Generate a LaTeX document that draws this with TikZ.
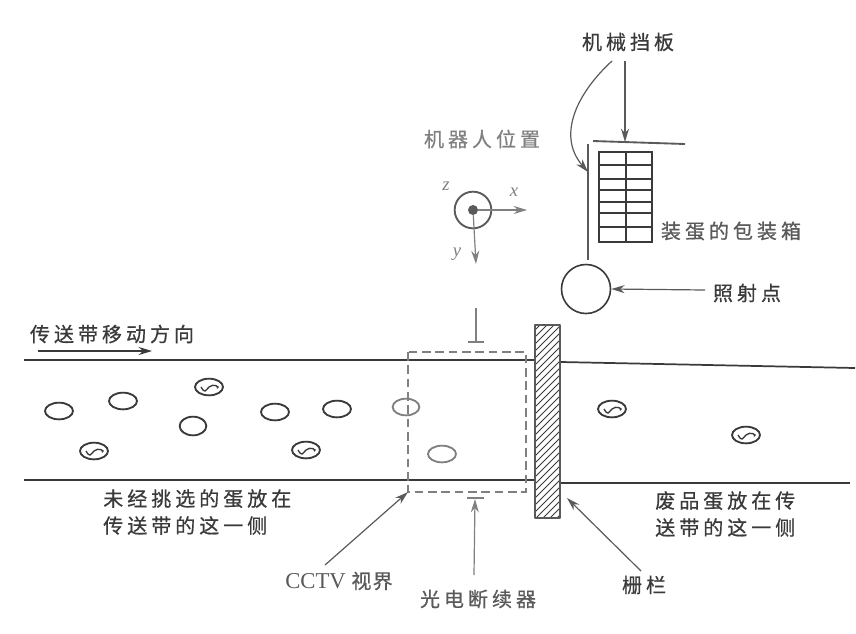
\documentclass[tikz,border=0pt]{standalone}
\usepackage{fontspec}
\usetikzlibrary{shapes.geometric,arrows.meta}
\newfontfamily\cjkf[LetterSpace=20,FakeBold=0.6]{Noto Sans CJK SC}
\newfontfamily\cjkg[LetterSpace=6,FakeBold=0.6]{Noto Sans CJK SC}
\setmainfont{Liberation Serif}
\definecolor{inkd}{HTML}{3A3A3A}
\definecolor{inkm}{HTML}{5A5A5A}
\definecolor{inkl}{HTML}{808080}
\tikzset{
  x=0.75pt,y=-0.75pt,
  lab/.style={font=\fontsize{15pt}{20.25pt}\selectfont\cjkf,text=inkd,inner sep=0pt,align=left},
  labg/.style={lab,text=inkm},
  egg/.style={ellipse,draw=inkd,line width=1.4pt,minimum width=21pt,minimum height=12.5pt,inner sep=0pt},
  eggg/.style={egg,draw=inkl},
  squig/.style={draw=inkd,line width=1pt},
  belt/.style={draw=inkd,line width=1.3pt},
  thin arrow/.style={draw=inkm,line width=.9pt,-{Stealth[length=10pt,width=6pt]}},
  hatchline/.style={draw=inkd,line width=.6pt},
  frame/.style={draw=inkd,line width=1.5pt},
  fview/.style={draw=inkl,line width=.9pt,dash pattern=on 6.5pt off 3.5pt},
  axisl/.style={font=\itshape\fontsize{14pt}{14pt}\selectfont,text=inkl,inner sep=0pt},
}
\newcommand{\sq}[1]{\draw[squig] ([xshift=-6pt]#1.center) .. controls +(3pt,-5pt) and +(-3pt,-3pt) .. (#1.center) .. controls +(3pt,3pt) and +(3pt,1pt) .. ([xshift=6pt,yshift=-1pt]#1.center);}
\begin{document}
\begin{tikzpicture}
\useasboundingbox[fill=white] (0,0) rectangle (856,633);
% belts
\coordinate (tl) at (24,360); \coordinate (tr) at (534,360);
\coordinate (bl) at (24,480); \coordinate (br) at (534,480);
\coordinate (rtl) at (561,362); \coordinate (rtr) at (855,368);
\coordinate (rbl) at (561,483); \coordinate (rbr) at (850,483);
\draw[belt] (tl) -- (tr); \draw[belt] (bl) -- (br);
\draw[belt] (rtl) -- (rtr); \draw[belt] (rbl) -- (rbr);
% fence
\node[draw=none,minimum width=0pt,inner sep=0pt] (fenceA) at (535,325) {};
\node[draw=none,inner sep=0pt] (fenceB) at (560,518) {};
\fill[white] (fenceA) rectangle (fenceB);
\begin{scope}
\clip (fenceA) rectangle (fenceB);
\foreach \k in {0,...,31} \draw[hatchline] (530,{335+\k*7}) -- (565,{335+\k*7-35});
\end{scope}
\draw[draw=inkm,line width=2.1pt,line join=round] (fenceA) rectangle (fenceB);
% CCTV view
\coordinate (va) at (408,352); \coordinate (vb) at (526,492);
\draw[fview] (va) rectangle (vb);
% eggs
\node[egg] (e1) at (59,411) {};
\node[egg] (e2) at (123,401) {};
\node[egg] (e3) at (209,387) {};
\node[egg,minimum width=20pt,minimum height=14pt] (e4) at (193,426) {};
\node[egg] (e5) at (94,451) {};
\node[egg] (e6) at (275,412) {};
\node[egg] (e7) at (337,409) {};
\node[egg] (e8) at (306,450) {};
\node[eggg,minimum width=20pt] (e9) at (406,407) {};
\node[eggg] (e10) at (442,454) {};
\node[egg] (e11) at (612,409) {};
\node[egg] (e12) at (746,435) {};
\sq{e3}\sq{e5}\sq{e8}\sq{e11}\sq{e12}
% direction
\node[lab] (dir) at (112,334) {传送带移动方向};
\coordinate (da) at (38,351); \coordinate (db) at (152,351);
\draw[thin arrow,draw=inkd] (da) -- (db);
% robot
\node[labg,text=inkl] (robot) at (482,139) {机器人位置};
\node[circle,draw=inkm,line width=1.4pt,minimum size=27.5pt,inner sep=0pt] (rb) at (473,210) {};
\node[circle,fill=inkm,minimum size=7.5pt,inner sep=0pt] (rc) at (473,210) {};
\coordinate (xe) at (527,210); \coordinate (ye) at (476,264);
\draw[thin arrow,draw=inkl] (rc) -- (xe);
\draw[thin arrow,draw=inkl] (rc) -- (ye);
\node[axisl] (lz) at (446,186) {z};
\node[axisl] (lx) at (514,192) {x};
\node[axisl] (ly) at (457,254) {y};
% upper sensor bar
\coordinate (t1) at (476,308); \coordinate (t2) at (476,342);
\coordinate (t3) at (468,342); \coordinate (t4) at (484,342);
\draw[draw=inkl,line width=.9pt] (t1) -- (t2) (t3) -- (t4);
% lower sensor bar
\coordinate (b3) at (467,498); \coordinate (b4) at (484,498); \coordinate (b2) at (475,499);
\draw[draw=inkl,line width=.9pt] (b3) -- (b4);
\node[labg] (sensor) at (478,599) {光电断续器};
\coordinate (b1) at (474,575);
\draw[thin arrow,draw=inkl] (b1) -- (b2);
% baffles
\coordinate (p1) at (593,141); \coordinate (p2) at (685,144);
\coordinate (p3) at (588,144); \coordinate (p4) at (588,260);
\draw[draw=inkm,line width=1.4pt] (p1) -- (p2);
\draw[draw=inkm,line width=1.8pt] (p3) -- (p4);
\node[lab] (baffle) at (628,42) {机械挡板};
\coordinate (a1) at (625,61); \coordinate (a2) at (625,142);
\coordinate (c1) at (612,61); \coordinate (c2) at (588,172);
\draw[thin arrow] (a1) -- (a2);
\draw[thin arrow] (c1) .. controls (578,92) and (556,135) .. (c2);
% crate
\node[draw=inkd,line width=1.5pt,minimum width=39.75pt,minimum height=67.5pt,inner sep=0pt] (crate) at (625.5,197) {};
\foreach \yy in {165,179,190,202,213,227} \draw[frame] (599,\yy) -- (652,\yy);
\draw[frame] (crate.north) -- (crate.south);
\node[labg] (cratel) at (731,231) {装蛋的包装箱};
% illumination
\node[circle,draw=inkd,line width=1.2pt,minimum size=36.75pt,inner sep=0pt] (lamp) at (586,289) {};
\node[lab] (lampl) at (747,293) {照射点};
\coordinate (l1) at (705,290);
\draw[thin arrow] (l1) -- (lamp.east);
% lower labels
\node[lab,anchor=north west] (un) at (103,489) {未经挑选的蛋放在\\传送带的这一侧};
\node[lab,anchor=north west] (rej) at (655,491) {废品蛋放在传\\送带的这一侧};
\node[labg,font=\fontsize{17pt}{20pt}\selectfont] (cctv) at (339,581) {CCTV {\fontsize{15pt}{20pt}\selectfont\cjkg 视界}};
\coordinate (cs) at (325,565); \coordinate (ce) at (408,492);
\draw[thin arrow] (cs) -- (ce);
\node[lab] (fence) at (644,585) {栅栏};
\coordinate (fs) at (641,571); \coordinate (fe) at (567,498);
\draw[thin arrow] (fs) -- (fe);
\end{tikzpicture}
\end{document}
